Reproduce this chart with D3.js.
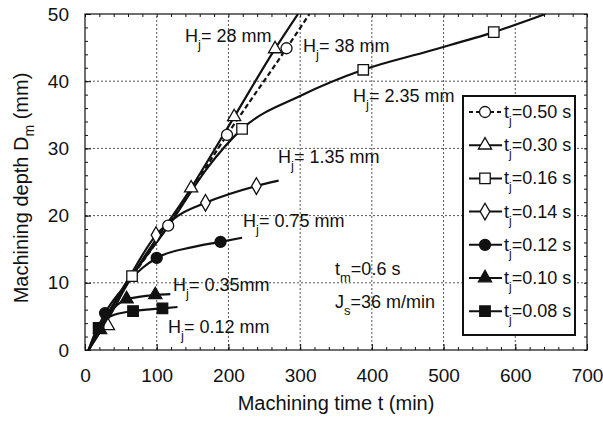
<!DOCTYPE html>
<html>
<head>
<meta charset="utf-8">
<script src="https://cdn.jsdelivr.net/npm/d3@7"></script>
<style>
  body { margin: 0; background: #fff; }
  svg { font-family: "Liberation Sans", Arial, sans-serif; }
  .tick text { font-size: 19px; fill: #111; }
  .domain { display: none; }
</style>
</head>
<body>
<div id="chart"></div>
<script>
// series: machining time t (min) / machining depth Dm (mm) for each jet time tj
const seriesNames = ["0.50", "0.30", "0.16", "0.14", "0.12", "0.10", "0.08"];
const seriesShapes = ["circle", "triangle", "square", "diamond", "circle", "triangle", "square"];
const seriesFilled = [false, false, false, false, true, true, true];
const seriesDashed = [true, false, false, false, false, false, false];

// curve points
const lineT = [
  [5, 30, 60, 116, 198, 281, 313],
  [5, 32, 60, 148, 208, 265, 297],
  [5, 30, 65.6, 120, 170, 219, 300, 388, 480, 570, 642],
  [5, 30, 60, 99, 130, 168, 239, 270],
  [5, 28, 50, 80, 100, 150, 189, 219],
  [5, 20, 40, 60, 99, 119],
  [5, 18, 35, 67, 108, 129]
];
const lineD = [
  [0, 5, 10, 18.5, 32, 44.9, 50],
  [0, 4.6, 10, 24.1, 34.7, 44.8, 50],
  [0, 5, 11, 19, 27, 32.9, 37.8, 41.7, 44.5, 47.3, 50],
  [0, 5, 10.5, 17.1, 20, 21.9, 24.4, 25.2],
  [0, 5.5, 8.8, 12.2, 13.7, 15.3, 16.1, 16.7],
  [0, 3, 6.2, 7.6, 8.2, 8.3],
  [0, 3.4, 5, 5.8, 6.2, 6.4]
];
// measured (marked) points
const markT = [
  [116, 198, 281],
  [32, 148, 208, 265],
  [65.6, 219, 388, 570],
  [99, 168, 239],
  [28, 100, 189],
  [21, 58, 98],
  [19, 67, 108]
];
const markD = [
  [18.5, 32, 44.9],
  [3.6, 24.1, 34.7, 44.8],
  [11, 32.9, 41.7, 47.3],
  [17.1, 21.9, 24.4],
  [5.5, 13.7, 16.1],
  [3, 7.6, 8.2],
  [3.3, 5.8, 6.2]
];

const xTicks = [0, 100, 200, 300, 400, 500, 600, 700];
const yTicks = [0, 10, 20, 30, 40, 50];

// H_j labels near each curve
const hLabels = ["28 mm", "38 mm", "2.35 mm", "1.35 mm", "0.75 mm", "0.35mm", "0.12 mm"];
const hLabelPos = [[185, 42], [303, 52], [353, 102], [278, 163], [243, 227], [173, 291], [168, 333]];

const width = 603, height = 421;
const svg = d3.select("#chart").append("svg")
  .attr("width", width).attr("height", height);

const x = d3.scaleLinear().domain([0, 700]).range([85, 587]);
const y = d3.scaleLinear().domain([0, 50]).range([350, 14]);

// grid
const grid = svg.append("g").attr("stroke", "#555").attr("stroke-width", 1)
  .attr("stroke-dasharray", "2,2");
grid.selectAll(".gx").data(xTicks.slice(1, -1)).join("line")
  .attr("x1", d => x(d)).attr("x2", d => x(d)).attr("y1", y(0)).attr("y2", y(50));
grid.selectAll(".gy").data(yTicks.slice(1, -1)).join("line")
  .attr("y1", d => y(d)).attr("y2", d => y(d)).attr("x1", x(0)).attr("x2", x(700));

// ticks, inward on all sides
svg.append("g").attr("transform", `translate(0,${y(0)})`)
  .call(d3.axisBottom(x).tickValues(xTicks).tickSize(-6).tickPadding(19));
svg.append("g").attr("transform", `translate(0,${y(0)})`)
  .call(d3.axisBottom(x).tickValues(d3.range(0, 701, 20)).tickSize(-3).tickFormat(""));
svg.append("g").attr("transform", `translate(0,${y(50)})`)
  .call(d3.axisTop(x).tickValues(d3.range(0, 701, 20)).tickSize(-3).tickFormat(""));
svg.append("g").attr("transform", `translate(${x(0)},0)`)
  .call(d3.axisLeft(y).tickValues(yTicks).tickSize(-6).tickPadding(16));
svg.append("g").attr("transform", `translate(${x(0)},0)`)
  .call(d3.axisLeft(y).tickValues(d3.range(0, 51, 2)).tickSize(-3).tickFormat(""));
svg.append("g").attr("transform", `translate(${x(700)},0)`)
  .call(d3.axisRight(y).tickValues(d3.range(0, 51, 2)).tickSize(-3).tickFormat(""));
svg.selectAll(".tick line").attr("stroke", "#111");

svg.append("rect")
  .attr("x", x(0)).attr("y", y(50))
  .attr("width", x(700) - x(0)).attr("height", y(0) - y(50))
  .attr("fill", "none").attr("stroke", "#111").attr("stroke-width", 1.2);

// clip
svg.append("clipPath").attr("id", "clip").append("rect")
  .attr("x", x(0)).attr("y", y(50))
  .attr("width", x(700) - x(0)).attr("height", y(0) - y(50));

const line = d3.line().x(d => x(d[0])).y(d => y(d[1])).curve(d3.curveMonotoneX);

function symbolFor(shape) {
  if (shape === "circle") return d3.symbolCircle;
  if (shape === "triangle") return d3.symbolTriangle;
  if (shape === "square") return d3.symbolSquare;
  return d3.symbolDiamond;
}
const symSize = { circle: 95, triangle: 75, square: 110, diamond: 80 };

const plot = svg.append("g").attr("clip-path", "url(#clip)");

seriesNames.forEach((name, i) => {
  const pts = lineT[i].map((t, k) => [t, lineD[i][k]]);
  plot.append("path")
    .attr("d", line(pts))
    .attr("fill", "none")
    .attr("stroke", "#111")
    .attr("stroke-width", 2.2)
    .attr("stroke-dasharray", seriesDashed[i] ? "5,3" : null);
});
seriesNames.forEach((name, i) => {
  const marks = markT[i].map((t, k) => [t, markD[i][k]]);
  plot.selectAll(null).data(marks).join("path")
    .attr("transform", d => `translate(${x(d[0])},${y(d[1])})`)
    .attr("d", d3.symbol().type(symbolFor(seriesShapes[i])).size(symSize[seriesShapes[i]]))
    .attr("fill", seriesFilled[i] ? "#111" : "#fff")
    .attr("stroke", "#111")
    .attr("stroke-width", 1.3);
});

// H_j labels
hLabels.forEach((lab, i) => {
  const t = svg.append("text")
    .attr("x", hLabelPos[i][0]).attr("y", hLabelPos[i][1])
    .attr("font-size", 18).attr("fill", "#111");
  t.append("tspan").text("H");
  t.append("tspan").attr("font-size", 13).attr("dy", 7).text("j");
  t.append("tspan").attr("dy", -7).text("= " + lab);
});

// condition labels
const c1 = svg.append("text").attr("x", 335).attr("y", 275).attr("font-size", 18).attr("fill", "#111");
c1.append("tspan").text("t");
c1.append("tspan").attr("font-size", 13).attr("dy", 7).text("m");
c1.append("tspan").attr("dy", -7).text("=0.6 s");
const c2 = svg.append("text").attr("x", 335).attr("y", 308).attr("font-size", 18).attr("fill", "#111");
c2.append("tspan").text("J");
c2.append("tspan").attr("font-size", 13).attr("dy", 7).text("s");
c2.append("tspan").attr("dy", -7).text("=36 m/min");

// legend
const legend = svg.append("g");
legend.append("rect")
  .attr("x", 463).attr("y", 96).attr("width", 112).attr("height", 239)
  .attr("fill", "#fff").attr("stroke", "#111").attr("stroke-width", 2);
seriesNames.forEach((name, i) => {
  const ly = 112 + i * 33.2;
  legend.append("line")
    .attr("x1", 469).attr("x2", 502).attr("y1", ly).attr("y2", ly)
    .attr("stroke", "#111").attr("stroke-width", 2)
    .attr("stroke-dasharray", seriesDashed[i] ? "4,3" : null);
  legend.append("path")
    .attr("transform", `translate(485,${ly})`)
    .attr("d", d3.symbol().type(symbolFor(seriesShapes[i])).size(symSize[seriesShapes[i]]))
    .attr("fill", seriesFilled[i] ? "#111" : "#fff")
    .attr("stroke", "#111").attr("stroke-width", 1.3);
  const t = legend.append("text").attr("x", 504).attr("y", ly + 6)
    .attr("font-size", 18).attr("fill", "#111");
  t.append("tspan").text("t");
  t.append("tspan").attr("font-size", 12).attr("dy", 7).text("j");
  t.append("tspan").attr("dy", -7).text("=" + name + " s");
});

// axis titles
svg.append("text")
  .attr("x", (x(0) + x(700)) / 2).attr("y", 410)
  .attr("text-anchor", "middle").attr("font-size", 20).attr("fill", "#111")
  .text("Machining time t  (min)");
const yt = svg.append("text")
  .attr("transform", `translate(28,${(y(0) + y(50)) / 2 + 6}) rotate(-90)`)
  .attr("text-anchor", "middle").attr("font-size", 20).attr("fill", "#111");
yt.append("tspan").text("Machining depth D");
yt.append("tspan").attr("font-size", 14).attr("dy", 6).text("m");
yt.append("tspan").attr("dy", -6).text("  (mm)");
</script>
</body>
</html>
